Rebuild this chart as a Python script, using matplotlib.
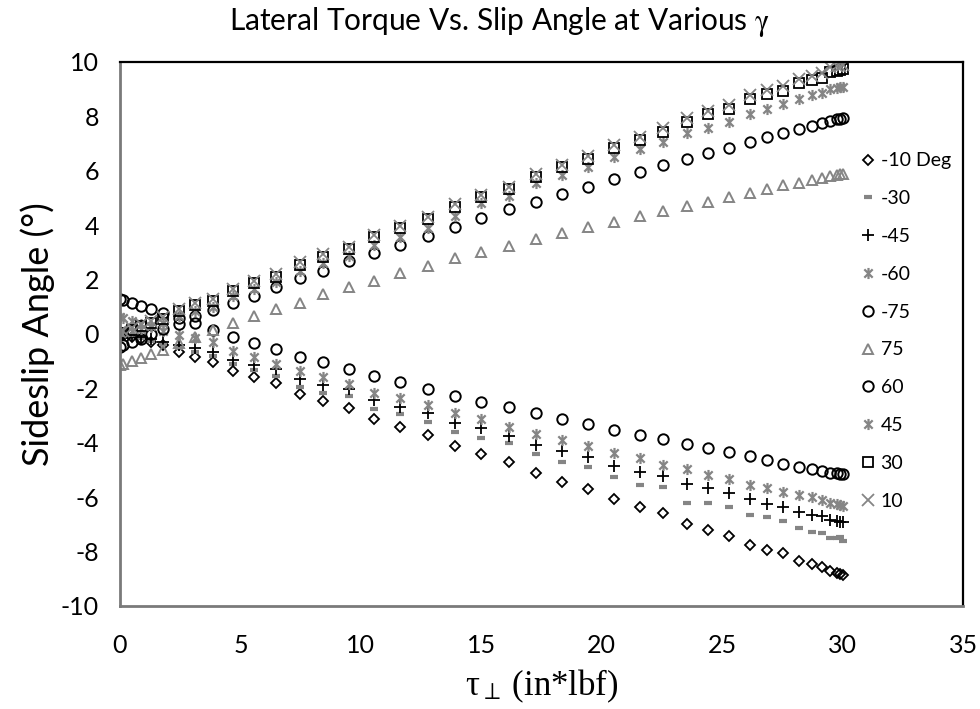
import matplotlib
matplotlib.use("Agg")
import matplotlib.pyplot as plt
import matplotlib.path as path

plt.rcParams['font.family'] = ['Lato', 'DejaVu Sans']
plt.rcParams['mathtext.fontset'] = 'stix'
plt.rcParams['axes.unicode_minus'] = False

# torque values (in*lbf), shared by all series
torque = [0, 0.14, 0.49, 0.86, 1.28, 1.80, 2.45, 3.11, 3.87, 4.70,
          5.56, 6.47, 7.47, 8.44, 9.50, 10.56, 11.64, 12.78, 13.91, 15.00,
          16.15, 17.26, 18.37, 19.44, 20.52, 21.59, 22.53, 23.52, 24.43, 25.29,
          26.15, 26.87, 27.53, 28.18, 28.71, 29.13, 29.47, 29.75, 29.89, 30.00]

# sideslip angle (deg) per gamma
g_m10 = [0.0, -0.04, -0.12, -0.20, -0.28, -0.40, -0.65, -0.83, -1.02, -1.36,
         -1.59, -1.81, -2.21, -2.46, -2.71, -3.13, -3.41, -3.71, -4.11, -4.41,
         -4.72, -5.12, -5.43, -5.70, -6.08, -6.37, -6.59, -6.99, -7.21, -7.41,
         -7.76, -7.94, -8.06, -8.33, -8.46, -8.58, -8.70, -8.78, -8.82, -8.86]
g_m30 = [0.0, -0.02, -0.08, -0.15, -0.25, -0.38, -0.50, -0.65, -0.80, -1.10,
         -1.32, -1.54, -1.94, -2.16, -2.28, -2.76, -2.94, -3.22, -3.59, -3.83,
         -4.00, -4.41, -4.69, -4.88, -5.27, -5.55, -5.64, -6.20, -6.20, -6.35,
         -6.65, -6.72, -6.86, -7.14, -7.27, -7.33, -7.51, -7.51, -7.45, -7.61]
g_m45 = [0.05, 0.02, -0.03, -0.10, -0.18, -0.28, -0.40, -0.50, -0.68, -0.96,
         -1.14, -1.29, -1.67, -1.88, -2.03, -2.43, -2.67, -2.89, -3.26, -3.47,
         -3.75, -4.08, -4.29, -4.53, -4.84, -5.06, -5.22, -5.51, -5.67, -5.86,
         -6.08, -6.26, -6.35, -6.53, -6.65, -6.69, -6.84, -6.86, -6.90, -6.91]
g_m60 = [0.62, 0.58, 0.48, 0.38, 0.26, 0.12, -0.04, -0.16, -0.31, -0.63,
         -0.86, -1.10, -1.36, -1.59, -1.84, -2.16, -2.36, -2.61, -2.92, -3.14,
         -3.41, -3.68, -3.90, -4.12, -4.36, -4.57, -4.82, -4.97, -5.18, -5.33,
         -5.55, -5.67, -5.80, -5.92, -6.00, -6.10, -6.20, -6.26, -6.29, -6.31]
g_m75 = [-0.47, -0.42, -0.30, -0.18, 0.00, 0.20, 0.37, 0.39, 0.15, -0.10,
         -0.32, -0.56, -0.83, -1.04, -1.27, -1.54, -1.78, -2.01, -2.27, -2.49,
         -2.70, -2.92, -3.14, -3.32, -3.53, -3.73, -3.87, -4.06, -4.20, -4.35,
         -4.49, -4.63, -4.79, -4.88, -4.96, -5.04, -5.10, -5.12, -5.15, -5.16]
g_p75 = [-1.14, -1.10, -0.99, -0.89, -0.75, -0.59, -0.35, -0.10, 0.15, 0.39,
         0.67, 0.91, 1.15, 1.46, 1.72, 1.96, 2.23, 2.50, 2.78, 3.02,
         3.24, 3.48, 3.72, 3.92, 4.13, 4.35, 4.53, 4.71, 4.86, 5.05,
         5.19, 5.32, 5.48, 5.56, 5.66, 5.75, 5.81, 5.85, 5.87, 5.88]
g_p60 = [1.29, 1.25, 1.13, 1.04, 0.91, 0.76, 0.60, 0.67, 0.88, 1.13,
         1.41, 1.72, 2.05, 2.33, 2.68, 2.99, 3.28, 3.60, 3.94, 4.25,
         4.58, 4.86, 5.15, 5.42, 5.70, 5.94, 6.21, 6.43, 6.64, 6.85,
         7.05, 7.23, 7.40, 7.53, 7.65, 7.75, 7.83, 7.89, 7.92, 7.93]
g_p45 = [0.05, 0.08, 0.12, 0.20, 0.30, 0.42, 0.65, 0.85, 1.00, 1.38,
         1.66, 1.90, 2.30, 2.60, 2.85, 3.27, 3.58, 3.90, 4.32, 4.80,
         5.09, 5.54, 5.85, 6.15, 6.50, 6.79, 7.07, 7.38, 7.56, 7.81,
         8.09, 8.26, 8.46, 8.63, 8.79, 8.87, 9.00, 9.06, 9.07, 9.09]
g_p30 = [0.0, 0.05, 0.15, 0.28, 0.40, 0.55, 0.84, 1.05, 1.20, 1.57,
         1.86, 2.11, 2.54, 2.84, 3.11, 3.55, 3.88, 4.21, 4.66, 5.02,
         5.32, 5.78, 6.13, 6.42, 6.83, 7.13, 7.44, 7.81, 8.08, 8.26,
         8.63, 8.82, 8.94, 9.22, 9.34, 9.40, 9.64, 9.68, 9.71, 9.73]
g_p10 = [0.08, 0.12, 0.22, 0.35, 0.48, 0.63, 0.92, 1.14, 1.30, 1.66,
         1.96, 2.21, 2.64, 2.94, 3.21, 3.65, 3.98, 4.31, 4.76, 5.12,
         5.42, 5.88, 6.23, 6.53, 6.94, 7.24, 7.56, 7.93, 8.20, 8.40,
         8.77, 8.97, 9.10, 9.38, 9.50, 9.58, 9.80, 9.84, 9.87, 9.89]

labels = ['-10 Deg', '-30', '-45', '-60', '-75', '75', '60', '45', '30', '10']
series = [g_m10, g_m30, g_m45, g_m60, g_m75, g_p75, g_p60, g_p45, g_p30, g_p10]

# excel-like asterisk: vertical bar plus an x
star = path.Path([(0, -1), (0, 1), (-0.75, -0.75), (0.75, 0.75), (-0.75, 0.75), (0.75, -0.75)],
                 [path.Path.MOVETO, path.Path.LINETO] * 3)

GRAY = '#858585'
styles = [
    dict(marker='D', ms=5, mfc='none', mec='black', mew=1.3),
    dict(marker='_', ms=6, mec=GRAY, mew=3),
    dict(marker='+', ms=8, mec='black', mew=1.3),
    dict(marker=star, ms=8, mec=GRAY, mew=1.6),
    dict(marker='o', ms=7.5, mfc='none', mec='black', mew=1.4),
    dict(marker='^', ms=7, mfc='none', mec=GRAY, mew=1.4),
    dict(marker='o', ms=7.5, mfc='none', mec='black', mew=1.4),
    dict(marker=star, ms=8, mec=GRAY, mew=1.6),
    dict(marker='s', ms=6.5, mfc='none', mec='black', mew=1.3),
    dict(marker='x', ms=9, mec=GRAY, mew=1.3),
]

fig = plt.figure(figsize=(9.8, 7.09), dpi=100)
ax = fig.add_axes([0.1224, 0.1453, 0.8603, 0.7673])

for ys, lab, st in zip(series, labels, styles):
    ax.plot(torque, ys, linestyle='none', label=lab, **st)

ax.set_xlim(0, 35)
ax.set_ylim(-10, 10)
ax.set_xticks(range(0, 36, 5))
ax.set_yticks(range(-10, 11, 2))
ax.tick_params(length=0, labelsize=18, colors='black')
ax.tick_params(axis='y', pad=15)
ax.tick_params(axis='x', pad=20)

for side in ['left', 'bottom']:
    ax.spines[side].set_color('#7a7a7a')
    ax.spines[side].set_linewidth(2)
for side in ['top', 'right']:
    ax.spines[side].set_color('black')
    ax.spines[side].set_linewidth(1.6)

fig.text(0.51, 0.969, 'Lateral Torque Vs. Slip Angle at Various $\\mathrm{\\gamma}$',
         fontsize=21.5, ha='center', va='center')
ax.set_ylabel('Sideslip Angle (°)', fontsize=26, labelpad=4)
ax.set_xlabel('τ${}_{\\perp}\\;$(in*lbf)', fontsize=25, family=['Liberation Serif', 'DejaVu Serif'],
              labelpad=8)

leg = ax.legend(loc='upper left', bbox_to_anchor=(0.871, 0.848), frameon=False,
                fontsize=14, handlelength=0.6, handletextpad=0.35, labelspacing=1.07,
                borderaxespad=0)

fig.savefig('out.png', dpi=100)
